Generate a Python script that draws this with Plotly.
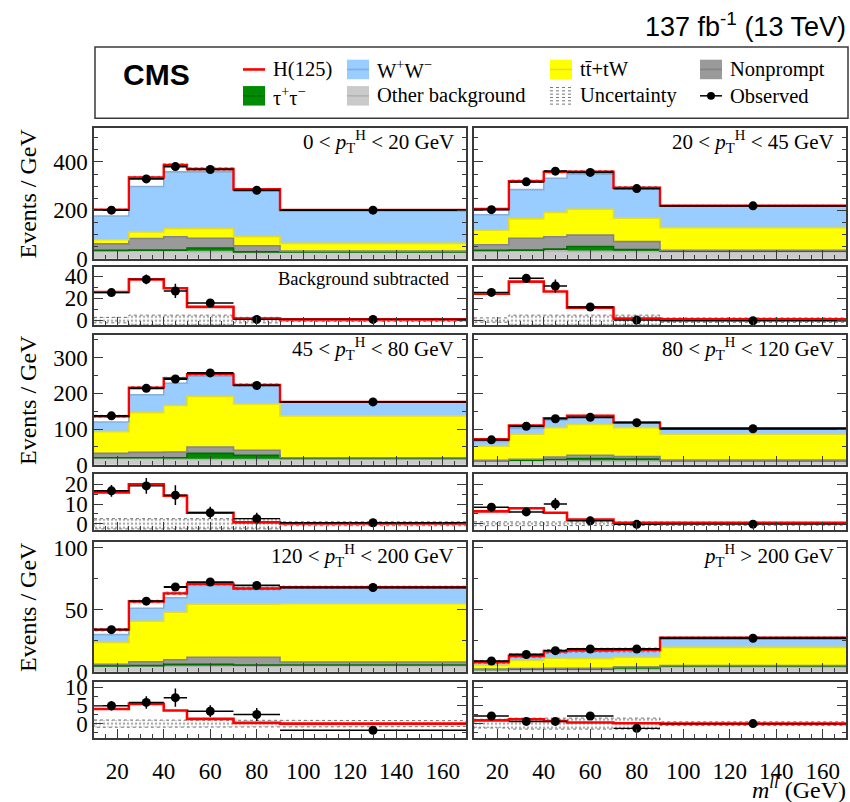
import plotly.graph_objects as go

# ---------------- data (per GeV) ----------------
edges = [10, 25, 40, 50, 70, 90, 170]
centers = [17.5, 32.5, 45, 60, 80, 130]
halfw = [7.5, 7.5, 5, 10, 10, 40]
widths = [15, 15, 10, 20, 20, 80]

panel_labels = [
    "0 &lt; <i>p</i><sub>T</sub><sup>H</sup> &lt; 20 GeV",
    "20 &lt; <i>p</i><sub>T</sub><sup>H</sup> &lt; 45 GeV",
    "45 &lt; <i>p</i><sub>T</sub><sup>H</sup> &lt; 80 GeV",
    "80 &lt; <i>p</i><sub>T</sub><sup>H</sup> &lt; 120 GeV",
    "120 &lt; <i>p</i><sub>T</sub><sup>H</sup> &lt; 200 GeV",
    "<i>p</i><sub>T</sub><sup>H</sup> &gt; 200 GeV",
]

# panel 1 : 0 < pT < 20
other_p1 = [33, 33, 33, 30, 25, 28]
tautau_p1 = [2, 3, 3, 15, 4, 1]
nonprompt_p1 = [27, 48, 55, 40, 25, 3]
ttbar_p1 = [17, 27, 34, 40, 37, 32]
ww_p1 = [98, 188, 234, 234, 195, 137]
higgs_p1 = [25.5, 37, 29, 12, 1.5, 0.6]
obs_p1 = [201, 330, 381, 369, 283, 201]
obs_err_p1 = [4, 5, 6, 4.5, 4, 1.6]
sub_p1 = [25, 37, 26.5, 15.5, 0.6, 0.6]
sub_err_p1 = [2.5, 4.5, 6.5, 3, 1.5, 0.5]
unc_p1 = [2.5, 4.5, 4.5, 4.5, 2.5, 1.2]

# panel 2 : 20 < pT < 45
other_p2 = [33, 33, 33, 31, 30, 30]
tautau_p2 = [2, 3, 7, 20, 8, 2]
nonprompt_p2 = [23, 49, 51, 47, 33, 3]
ttbar_p2 = [60, 80, 101, 107, 97, 94]
ww_p2 = [64, 121, 141, 144, 124, 90]
higgs_p2 = [24, 35, 26, 11.3, 1.5, 0.6]
obs_p2 = [203, 318, 362, 357, 290, 219]
obs_err_p2 = [4, 5, 6, 4.5, 4, 1.7]
sub_p2 = [25.2, 38, 31, 11.9, 0, -0.6]
sub_err_p2 = [3, 4, 6, 3, 2, 0.5]
unc_p2 = [2, 4.5, 4.5, 4.5, 4.5, 2]

# panel 3 : 45 < pT < 80
other_p3 = [18, 18, 16, 15, 15, 17]
tautau_p3 = [2, 2, 4, 17, 12, 1]
nonprompt_p3 = [12, 15, 16, 18, 14, 2]
ttbar_p3 = [61, 111, 130, 141, 129, 117]
ww_p3 = [27, 50, 62, 57, 53, 39]
higgs_p3 = [15.9, 20, 14.2, 5.6, 0.7, 0.2]
obs_p3 = [137, 214, 240, 257, 222, 176]
obs_err_p3 = [3, 4, 5, 3.5, 3, 1.5]
sub_p3 = [16.7, 19.2, 14.5, 5.6, 2.6, 0.5]
sub_err_p3 = [3, 4, 5, 3, 3, 0.6]
unc_p3 = [2.6, 2.6, 2.6, 2.6, 2.6, 1]

# panel 4 : 80 < pT < 120
other_p4 = [11, 12, 12, 11, 11, 11]
tautau_p4 = [0.5, 1, 3, 7, 5, 1]
nonprompt_p4 = [1.5, 2.5, 7, 9, 7, 1]
ttbar_p4 = [39, 70, 82, 86, 81, 72.5]
ww_p4 = [13.5, 16.5, 21, 22.5, 14.4, 16.5]
higgs_p4 = [6.3, 7.9, 5.6, 2.1, 0.5, 0.5]
obs_p4 = [70, 108, 129, 133, 118, 101]
obs_err_p4 = [2, 3, 3.5, 2.5, 2.5, 1.1]
sub_p4 = [8.4, 6, 10, 1.5, -0.3, -0.2]
sub_err_p4 = [2, 2, 3, 2, 1.5, 0.5]
unc_p4 = [1, 1, 1, 1, 1, 0.7]

# panel 5 : 120 < pT < 200
other_p5 = [4.5, 4.5, 4.5, 4.5, 4.5, 5]
tautau_p5 = [0.3, 0.5, 1.5, 1.5, 1, 0.5]
nonprompt_p5 = [1.2, 3, 3.7, 5.8, 6.3, 2.4]
ttbar_p5 = [17.7, 32.8, 38.3, 42.7, 42.7, 47]
ww_p5 = [6.3, 10.5, 11.7, 15.2, 12.5, 13.4]
higgs_p5 = [4, 5.4, 3.6, 1.3, 0.2, 0]
obs_p5 = [34, 57, 68.4, 72.4, 69.7, 68]
obs_err_p5 = [1.5, 2, 2.6, 1.9, 1.9, 0.9]
sub_p5 = [4.9, 5.8, 7.1, 3.4, 2.5, -1.8]
sub_err_p5 = [1.3, 1.7, 2.5, 1.6, 1.8, 0.3]
unc_p5 = [1, 1, 1, 1, 1, 0.8]

# panel 6 : pT > 200
other_p6 = [1.8, 1.8, 2, 2, 2, 4]
tautau_p6 = [0.1, 0.3, 0.3, 0.3, 1.4, 0.5]
nonprompt_p6 = [0.2, 0.5, 0.5, 0.5, 0.5, 0.5]
ttbar_p6 = [3.2, 6.6, 8.2, 7.7, 7.9, 14.7]
ww_p6 = [1.8, 2.6, 4.8, 6.6, 5.8, 7.9]
higgs_p6 = [0.9, 1.2, 0.7, 0.3, 0.1, 0]
obs_p6 = [8.7, 14, 17.1, 18.4, 18.4, 27.1]
obs_err_p6 = [0.8, 1, 1.3, 1, 1, 0.6]
sub_p6 = [2.1, 0.6, 0.6, 2.1, -1.3, 0]
sub_err_p6 = [0.5, 0.5, 1, 0.5, 0.5, 0.3]
unc_p6 = [1.2, 1.5, 1.5, 1.5, 1.5, 0.5]

panels = [
    dict(other=other_p1, tautau=tautau_p1, nonprompt=nonprompt_p1, ttbar=ttbar_p1, ww=ww_p1,
         higgs=higgs_p1, obs=obs_p1, obs_err=obs_err_p1, sub=sub_p1, sub_err=sub_err_p1, unc=unc_p1),
    dict(other=other_p2, tautau=tautau_p2, nonprompt=nonprompt_p2, ttbar=ttbar_p2, ww=ww_p2,
         higgs=higgs_p2, obs=obs_p2, obs_err=obs_err_p2, sub=sub_p2, sub_err=sub_err_p2, unc=unc_p2),
    dict(other=other_p3, tautau=tautau_p3, nonprompt=nonprompt_p3, ttbar=ttbar_p3, ww=ww_p3,
         higgs=higgs_p3, obs=obs_p3, obs_err=obs_err_p3, sub=sub_p3, sub_err=sub_err_p3, unc=unc_p3),
    dict(other=other_p4, tautau=tautau_p4, nonprompt=nonprompt_p4, ttbar=ttbar_p4, ww=ww_p4,
         higgs=higgs_p4, obs=obs_p4, obs_err=obs_err_p4, sub=sub_p4, sub_err=sub_err_p4, unc=unc_p4),
    dict(other=other_p5, tautau=tautau_p5, nonprompt=nonprompt_p5, ttbar=ttbar_p5, ww=ww_p5,
         higgs=higgs_p5, obs=obs_p5, obs_err=obs_err_p5, sub=sub_p5, sub_err=sub_err_p5, unc=unc_p5),
    dict(other=other_p6, tautau=tautau_p6, nonprompt=nonprompt_p6, ttbar=ttbar_p6, ww=ww_p6,
         higgs=higgs_p6, obs=obs_p6, obs_err=obs_err_p6, sub=sub_p6, sub_err=sub_err_p6, unc=unc_p6),
]

# ---------------- style ----------------
components = [  # bottom -> top
    ("other", "#CACACA", "#B2B2B2"),
    ("tautau", "#008C00", "#006E00"),
    ("nonprompt", "#9A9A9A", "#848484"),
    ("ttbar", "#FFFF00", "#E3DC2A"),
    ("ww", "#99CCFF", "#86AEDB"),
]
RED = "#FF0000"
FRAME = "#3A3A3A"
SERIF = "Liberation Serif"
SANS = "Liberation Sans"

W, Hpx = 850, 802
def fx(p): return p / W
def fy(p): return 1 - p / Hpx

col_px = [(94, 466), (474, 846)]
main_px = [(125, 259), (337, 470), (549, 682)]
ratio_px = [(267, 327), (479, 537), (692, 750)]
main_range = [[0, 540], [0, 363], [0, 104.7]]
ratio_range = [[-4.7, 48.6], [-3.3, 25.4], [-4.0, 11.5]]
main_dtick = [(200, 50), (100, 50), (50, 25)]
ratio_dtick = [(20, 10), (10, 5), (5, 2.5)]

fig = go.Figure()
layout = {}

def step_xy(vals):
    return list(edges), list(vals) + [vals[-1]]

def band_xy(center, unc):
    xs, ys = [], []
    for i in range(len(center)):
        xs += [edges[i], edges[i + 1]]
        ys += [center[i] + unc[i]] * 2
    for i in reversed(range(len(center))):
        xs += [edges[i + 1], edges[i]]
        ys += [center[i] - unc[i]] * 2
    return xs + [xs[0]], ys + [ys[0]]

for p, d in enumerate(panels):
    r, c = divmod(p, 2)
    km, kr = 2 * p + 1, 2 * p + 2
    xm, ym = f"x{km}", f"y{km}"
    xr, yr = f"x{kr}", f"y{kr}"

    # stacked background histograms
    cum = [0.0] * 6
    cum_levels = []
    for name, fill, _ in components:
        fig.add_trace(go.Bar(x=centers, y=d[name], width=widths, marker=dict(color=fill, line=dict(width=0)),
                             xaxis=xm, yaxis=ym, showlegend=False, hoverinfo="skip"))
        cum = [a + b for a, b in zip(cum, d[name])]
        cum_levels.append(list(cum))
    for (name, _, edge), lev in zip(components, cum_levels):
        sx, sy = step_xy(lev)
        fig.add_trace(go.Scatter(x=sx, y=sy, mode="lines", line=dict(color=edge, width=1.6, shape="hv"),
                                 xaxis=xm, yaxis=ym, showlegend=False, hoverinfo="skip"))
    total = [a + b for a, b in zip(cum, d["higgs"])]
    # uncertainty band on total
    bx, by = band_xy(total, d["unc"])
    fig.add_trace(go.Scatter(x=bx, y=by, mode="lines", fill="toself", fillcolor="rgba(0,0,0,0)",
                             fillpattern=dict(shape=".", fgcolor="#555555", size=4, solidity=0.25,
                                              bgcolor="rgba(0,0,0,0)"),
                             line=dict(color="#666666", width=0.8, dash="dot"),
                             xaxis=xm, yaxis=ym, showlegend=False, hoverinfo="skip"))
    sx, sy = step_xy(total)
    fig.add_trace(go.Scatter(x=sx, y=sy, mode="lines", line=dict(color=RED, width=2.4, shape="hv"),
                             xaxis=xm, yaxis=ym, showlegend=False, hoverinfo="skip"))
    fig.add_trace(go.Scatter(x=centers, y=d["obs"], mode="markers",
                             marker=dict(color="black", size=9),
                             error_x=dict(type="data", array=halfw, width=0, thickness=1.8, color="black"),
                             error_y=dict(type="data", array=d["obs_err"], width=0, thickness=1.5, color="black"),
                             xaxis=xm, yaxis=ym, showlegend=False))

    # background-subtracted panel
    bx, by = band_xy([0] * 6, d["unc"])
    fig.add_trace(go.Scatter(x=bx, y=by, mode="lines", fill="toself", fillcolor="rgba(0,0,0,0)",
                             fillpattern=dict(shape=".", fgcolor="#555555", size=4, solidity=0.3,
                                              bgcolor="rgba(0,0,0,0)"),
                             line=dict(color="#666666", width=0.9, dash="dot"),
                             xaxis=xr, yaxis=yr, showlegend=False, hoverinfo="skip"))
    sx, sy = step_xy(d["higgs"])
    fig.add_trace(go.Scatter(x=sx, y=sy, mode="lines", line=dict(color=RED, width=2.6, shape="hv"),
                             xaxis=xr, yaxis=yr, showlegend=False, hoverinfo="skip"))
    fig.add_trace(go.Scatter(x=centers, y=d["sub"], mode="markers",
                             marker=dict(color="black", size=9),
                             error_x=dict(type="data", array=halfw, width=0, thickness=1.4, color="black"),
                             error_y=dict(type="data", array=d["sub_err"], width=0, thickness=1.5, color="black"),
                             xaxis=xr, yaxis=yr, showlegend=False))

    # axes
    x0, x1 = col_px[c]
    common_x = dict(range=[10, 170], showgrid=False, zeroline=False, showline=True, linecolor=FRAME,
                    linewidth=1.5, mirror=True, ticks="inside", ticklen=9, tickwidth=1.2, tickcolor=FRAME,
                    tick0=0, dtick=20, ticklabelstandoff=11,
                    minor=dict(ticks="inside", ticklen=4.5, tick0=0, dtick=5, tickcolor=FRAME, tickwidth=1),
                    tickfont=dict(family=SERIF, size=23, color="black"),
                    domain=[fx(x0), fx(x1)])
    layout[f"xaxis{km}"] = dict(common_x, anchor=ym, showticklabels=False)
    layout[f"xaxis{kr}"] = dict(common_x, anchor=yr, showticklabels=(r == 2))
    t0, t1 = main_px[r]
    dt, mdt = main_dtick[r]
    common_y = dict(showgrid=False, zeroline=False, showline=True, linecolor=FRAME, linewidth=1.5,
                    mirror="ticks", ticks="inside", ticklen=9, tickwidth=1.2, tickcolor=FRAME,
                    tickfont=dict(family=SERIF, size=23, color="black"))
    layout[f"yaxis{km}"] = dict(common_y, anchor=xm, range=main_range[r], tick0=0, dtick=dt,
                                minor=dict(ticks="inside", ticklen=4.5, tick0=0, dtick=mdt, tickcolor=FRAME),
                                domain=[fy(t1), fy(t0)], showticklabels=(c == 0))
    r0, r1 = ratio_px[r]
    dt, mdt = ratio_dtick[r]
    layout[f"yaxis{kr}"] = dict(common_y, anchor=xr, range=ratio_range[r], tick0=0, dtick=dt,
                                minor=dict(ticks="inside", ticklen=4.5, tick0=0, dtick=mdt, tickcolor=FRAME),
                                domain=[fy(r1), fy(r0)], showticklabels=(c == 0))

annotations = []
shapes = []

# panel labels
for p in range(6):
    r, c = divmod(p, 2)
    annotations.append(dict(text=panel_labels[p], x=fx(col_px[c][1] - 10), y=fy(main_px[r][0] + 14),
                            xref="paper", yref="paper", xanchor="right", yanchor="middle", showarrow=False,
                            font=dict(family=SERIF, size=21, color="black")))
annotations.append(dict(text="Background subtracted", x=fx(col_px[0][1] - 14), y=fy(ratio_px[0][0] + 13),
                        xref="paper", yref="paper", xanchor="right", yanchor="middle", showarrow=False,
                        font=dict(family=SERIF, size=18.5, color="black")))
for r in range(3):
    annotations.append(dict(text="Events / GeV", x=fx(28), y=fy((main_px[r][0] + main_px[r][1]) / 2),
                            xref="paper", yref="paper", textangle=-90, xanchor="center", yanchor="middle",
                            showarrow=False, font=dict(family=SERIF, size=24, color="black")))
annotations.append(dict(text="<i>m</i><sup><i>ll</i></sup> (GeV)", x=fx(848), y=fy(801),
                        xref="paper", yref="paper", xanchor="right", yanchor="middle", showarrow=False,
                        font=dict(family=SERIF, size=24, color="black")))
annotations.append(dict(text="137 fb<sup>-1</sup> (13 TeV)", x=fx(848), y=fy(19),
                        xref="paper", yref="paper", xanchor="right", yanchor="middle", showarrow=False,
                        font=dict(family=SANS, size=27, color="black")))

# legend box
shapes.append(dict(type="rect", xref="paper", yref="paper", x0=fx(95), x1=fx(848), y0=fy(115), y1=fy(42),
                   line=dict(color=FRAME, width=1.5), fillcolor="rgba(0,0,0,0)"))
annotations.append(dict(text="<b>CMS</b>", x=fx(156), y=fy(70), xref="paper", yref="paper",
                        xanchor="center", yanchor="middle", showarrow=False,
                        font=dict(family=SANS, size=30, color="black")))

legend_items = [
    ("line", RED, None, "H(125)", 243, 65),
    ("box", "#99CCFF", "#86AEDB", "W<sup>+</sup>W<sup>−</sup>", 347, 65),
    ("box", "#FFFF00", "#E3DC2A", "tt\u0304+tW", 550, 65),
    ("box", "#9A9A9A", "#848484", "Nonprompt", 700, 65),
    ("box", "#008C00", "#006E00", "τ<sup>+</sup>τ<sup>−</sup>", 243, 92),
    ("box", "#CACACA", "#B2B2B2", "Other background", 347, 92),
    ("unc", None, None, "Uncertainty", 550, 92),
    ("obs", None, None, "Observed", 700, 92),
]
for kind, col, edge, label, x, y in legend_items:
    bw, bh = 22, 20
    if kind == "line":
        shapes.append(dict(type="line", xref="paper", yref="paper", x0=fx(x), x1=fx(x + bw), y0=fy(y), y1=fy(y),
                           line=dict(color=col, width=2.6)))
    elif kind == "box":
        shapes.append(dict(type="rect", xref="paper", yref="paper", x0=fx(x), x1=fx(x + bw),
                           y0=fy(y + bh / 2), y1=fy(y - bh / 2), line=dict(width=0), fillcolor=col))
        shapes.append(dict(type="line", xref="paper", yref="paper", x0=fx(x), x1=fx(x + bw), y0=fy(y), y1=fy(y),
                           line=dict(color=edge, width=1.6)))
    elif kind == "unc":
        for j in range(6):
            yy = y - bh / 2 + 1.5 + j * 3.4
            shapes.append(dict(type="line", xref="paper", yref="paper", x0=fx(x), x1=fx(x + bw),
                               y0=fy(yy), y1=fy(yy), line=dict(color="#777777", width=1, dash="dot")))
    elif kind == "obs":
        shapes.append(dict(type="line", xref="paper", yref="paper", x0=fx(x), x1=fx(x + bw), y0=fy(y), y1=fy(y),
                           line=dict(color="black", width=1.5)))
        shapes.append(dict(type="circle", xref="paper", yref="paper", x0=fx(x + bw / 2 - 4), x1=fx(x + bw / 2 + 4),
                           y0=fy(y + 4), y1=fy(y - 4), line=dict(width=0), fillcolor="black"))
    annotations.append(dict(text=label, x=fx(x + bw + 6), y=fy(y), xref="paper", yref="paper",
                            xanchor="left", yanchor="middle", showarrow=False,
                            font=dict(family=SERIF, size=20.5, color="black")))

fig.update_layout(**layout)
fig.update_layout(width=W, height=Hpx, margin=dict(l=0, r=0, t=0, b=0), barmode="stack",
                  plot_bgcolor="white", paper_bgcolor="white", showlegend=False,
                  annotations=annotations, shapes=shapes)
fig.write_html("out.html", config={"displayModeBar": False},
               post_script="document.body.style.margin='0px';document.body.style.overflow='hidden';")
